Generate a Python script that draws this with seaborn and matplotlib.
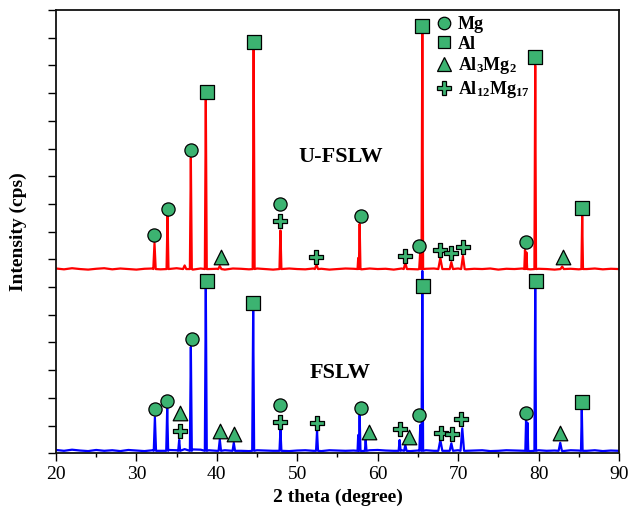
import matplotlib
matplotlib.use("Agg")
import matplotlib.pyplot as plt
import seaborn as sns
import pandas as pd
from matplotlib.lines import Line2D
from matplotlib.ticker import MultipleLocator

# ---------------- data ----------------
base_x = list(range(20, 91))
red_baseline = 6.65
blue_baseline = 0.09
red_base_noise = [0.02, -0.01, 0.03, 0.00, -0.02, 0.01, 0.03, -0.01, 0.02, 0.00,
                  -0.02, 0.01, 0.02, -0.01, 0.00, 0.03, 0.01, -0.02, 0.02, 0.00,
                  0.01, -0.02, 0.02, 0.01, -0.01, 0.02, 0.00, -0.02, 0.01, 0.02,
                  0.00, -0.01, 0.02, 0.01, -0.02, 0.00, 0.02, 0.01, -0.01, 0.02,
                  0.00, 0.01, -0.02, 0.02, 0.00, -0.01, 0.01, 0.02, -0.02, 0.00,
                  0.02, -0.01, 0.01, 0.00, 0.02, -0.02, 0.01, 0.00, 0.02, -0.01,
                  0.01, 0.00, -0.02, 0.02, 0.01, -0.01, 0.00, 0.02, -0.01, 0.01, 0.00]
blue_base_noise = [0.03, 0.00, 0.04, 0.01, -0.01, 0.03, 0.00, 0.02, -0.01, 0.03,
                   0.01, -0.01, 0.02, 0.00, 0.03, 0.02, 0.06, 0.05, 0.04, 0.02,
                   0.00, 0.02, 0.03, 0.00, -0.01, 0.02, 0.01, 0.00, 0.02, -0.01,
                   0.01, 0.02, 0.00, -0.01, 0.02, 0.01, 0.00, 0.01, -0.01, 0.02,
                   0.03, 0.01, 0.00, 0.02, -0.01, 0.01, 0.02, 0.00, 0.01, -0.01,
                   0.02, 0.00, 0.01, 0.02, -0.01, 0.00, 0.02, 0.01, 0.00, -0.01,
                   0.02, 0.00, 0.01, -0.01, 0.02, 0.01, 0.00, 0.02, -0.01, 0.01, 0.00]

red_peak_pos = [32.25, 33.87, 36.0, 36.77, 38.63, 40.37, 44.58, 47.91, 52.39,
                57.58, 57.76, 63.44, 65.28, 65.55, 67.79, 69.16, 70.6,
                78.32, 78.5, 79.59, 82.94, 85.43]
red_peak_height = [7.59, 8.56, 6.78, 10.66, 12.75, 6.76, 14.6, 8.04, 6.8,
                   7.05, 8.28, 6.87, 7.23, 15.18, 7.05, 6.9, 7.12,
                   7.34, 7.25, 14.0, 6.74, 8.56]
red_peak_hw = [0.15, 0.12, 0.2, 0.12, 0.12, 0.2, 0.12, 0.12, 0.2,
               0.08, 0.1, 0.2, 0.12, 0.1, 0.25, 0.2, 0.22,
               0.09, 0.09, 0.1, 0.2, 0.1]

blue_peak_pos = [32.3, 33.83, 35.32, 36.77, 38.63, 40.37, 42.11, 44.52, 47.91,
                 52.46, 57.58, 57.76, 58.51, 62.73, 63.44, 65.3, 65.55, 67.79,
                 69.16, 70.52, 78.45, 78.63, 79.59, 82.7, 85.38]
blue_peak_height = [1.3, 1.62, 0.48, 3.84, 6.0, 0.5, 0.38, 5.14, 0.84,
                    0.8, 0.66, 1.38, 0.48, 0.48, 0.3, 1.02, 6.58, 0.48,
                    0.36, 0.9, 1.18, 1.1, 6.0, 0.38, 1.59]
blue_peak_hw = [0.14, 0.12, 0.12, 0.12, 0.12, 0.15, 0.15, 0.12, 0.12,
                0.12, 0.08, 0.1, 0.1, 0.12, 0.15, 0.12, 0.1, 0.25,
                0.2, 0.22, 0.09, 0.09, 0.1, 0.2, 0.1]

# phase markers (position x, position y)
red_mg_x = [32.25, 33.87, 36.77, 47.91, 57.9, 65.1, 78.39]
red_mg_y = [7.88, 8.82, 10.95, 9.0, 8.58, 7.49, 7.62]
red_al_x = [38.72, 44.6, 65.55, 79.5, 85.43]
red_al_y = [13.05, 14.86, 15.43, 14.29, 8.84]
red_al3mg2_x = [40.5, 83.0]
red_al3mg2_y = [7.1, 7.1]
red_al12mg17_x = [47.91, 52.38, 63.44, 67.7, 69.16, 70.6]
red_al12mg17_y = [8.39, 7.08, 7.13, 7.34, 7.24, 7.46]

blue_mg_x = [32.3, 33.83, 36.86, 47.91, 57.98, 65.09, 78.39]
blue_mg_y = [1.59, 1.9, 4.12, 1.74, 1.65, 1.38, 1.44]
blue_al_x = [38.72, 44.51, 65.63, 79.63, 85.43]
blue_al_y = [6.23, 5.44, 6.05, 6.23, 1.84]
blue_al3mg2_x = [35.4, 40.37, 42.15, 58.92, 63.89, 82.7]
blue_al3mg2_y = [1.44, 0.8, 0.69, 0.78, 0.58, 0.72]
blue_al12mg17_x = [35.4, 47.91, 52.51, 62.73, 67.83, 69.28, 70.4]
blue_al12mg17_y = [0.82, 1.14, 1.1, 0.87, 0.74, 0.69, 1.23]

phase_labels = ["Mg", "Al", "Al$_3$Mg$_2$", "Al$_{12}$Mg$_{17}$"]
sample_labels = ["U-FSLW", "FSLW"]
x_label = "2 theta (degree)"
y_label = "Intensity (cps)"


def build(level, noise, pos, hgt, hw):
    pts = []
    for bx, n in zip(base_x, noise):
        if not any(abs(bx - p) <= w + 0.02 for p, w in zip(pos, hw)):
            pts.append((bx, level + n))
    for p, h, w in zip(pos, hgt, hw):
        pts += [(p - w, level), (p, h), (p + w, level)]
    pts.sort(key=lambda t: t[0])
    return pd.DataFrame(pts, columns=["x", "y"])


red_df = build(red_baseline, red_base_noise, red_peak_pos, red_peak_height, red_peak_hw)
blue_df = build(blue_baseline, blue_base_noise, blue_peak_pos, blue_peak_height, blue_peak_hw)

# ---------------- style ----------------
sns.set_theme(style="ticks")
plt.rcParams["font.family"] = ["Liberation Serif", "DejaVu Serif"]
plt.rcParams["mathtext.fontset"] = "custom"
plt.rcParams["mathtext.rm"] = "Liberation Serif:bold"
plt.rcParams["mathtext.it"] = "Liberation Serif:bold"
plt.rcParams["mathtext.bf"] = "Liberation Serif:bold"
for key in ["text.color", "axes.labelcolor", "xtick.color", "ytick.color"]:
    plt.rcParams[key] = "black"

fig = plt.figure(figsize=(6.31, 5.18), dpi=100)
ax = fig.add_axes([0.0887, 0.1249, 0.8922, 0.8558])

green = "#3cb371"
sns.lineplot(data=blue_df, x="x", y="y", ax=ax, color="#0000ff", lw=1.6,
             estimator=None, sort=False)
sns.lineplot(data=red_df, x="x", y="y", ax=ax, color="#ff0000", lw=1.6,
             estimator=None, sort=False)

marker_sets = [
    (red_mg_x + blue_mg_x, red_mg_y + blue_mg_y, "o", 9.5),
    (red_al_x + blue_al_x, red_al_y + blue_al_y, "s", 10),
    (red_al3mg2_x + blue_al3mg2_x, red_al3mg2_y + blue_al3mg2_y, "^", 10.5),
    (red_al12mg17_x + blue_al12mg17_x, red_al12mg17_y + blue_al12mg17_y, "P", 10.5),
]
for xs, ys, mk, ms in marker_sets:
    sns.scatterplot(x=xs, y=ys, ax=ax, marker=mk, s=ms ** 2, color=green,
                    edgecolor="black", linewidth=0.9, zorder=5)

ax.set_xlim(20, 90)
ax.set_ylim(0, 16)
ax.xaxis.set_major_locator(MultipleLocator(10))
ax.xaxis.set_minor_locator(MultipleLocator(5))
ax.yaxis.set_major_locator(MultipleLocator(1))
ax.set_yticklabels([])
ax.tick_params(axis="x", which="major", direction="out", length=5.5, width=1.0,
               labelsize=14, pad=4, colors="black")
ax.tick_params(axis="x", which="minor", direction="out", length=3.2, width=1.0,
               bottom=True, colors="black")
ax.tick_params(axis="y", which="major", direction="out", length=5.5, width=1.0,
               left=True, right=False, colors="black")
for sp in ax.spines.values():
    sp.set_linewidth(1.3)
    sp.set_color("#111111")

ax.set_xlabel(x_label, fontsize=14, fontweight="bold", color="black")
ax.set_ylabel(y_label, fontsize=14, fontweight="bold", color="black")
ax.yaxis.set_label_coords(-0.052, 0.5)

ax.text(55.4, 10.7, sample_labels[0], ha="center", va="center",
        fontsize=16, fontweight="bold", color="black")
ax.text(55.3, 2.9, sample_labels[1], ha="center", va="center",
        fontsize=16, fontweight="bold", color="black")

handles = [Line2D([], [], ls="none", marker=m, markersize=s, markerfacecolor=green,
                  markeredgecolor="black", markeredgewidth=0.9)
           for m, s in [("o", 9), ("s", 9), ("^", 10), ("P", 10)]]
ax.legend(handles, phase_labels, loc="upper left", bbox_to_anchor=(0.664, 1.003),
          frameon=False, handlelength=0.8, handletextpad=0.35, labelspacing=0.15,
          borderaxespad=0, prop={"weight": "bold", "size": 13})

fig.savefig("out.png", dpi=100)
